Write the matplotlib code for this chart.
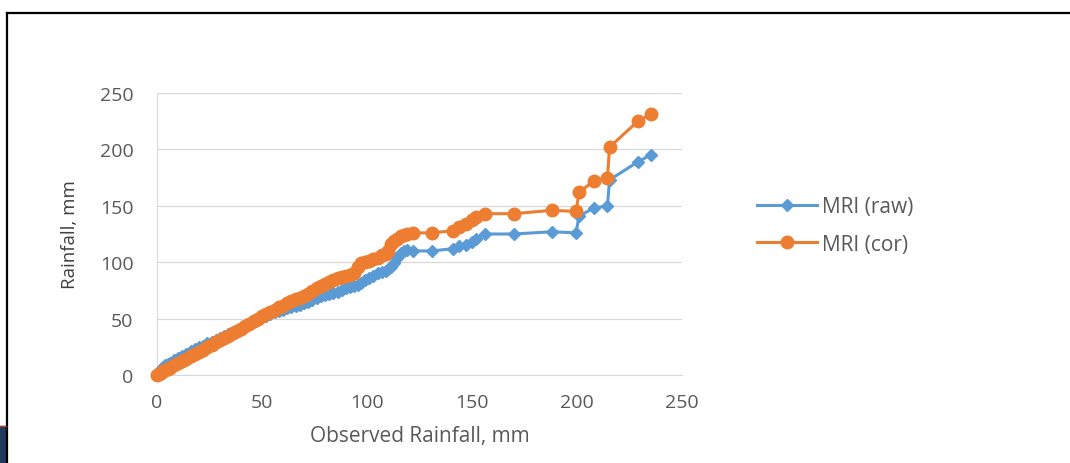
import numpy as np
import matplotlib
matplotlib.use('Agg')
import matplotlib.pyplot as plt
from matplotlib.lines import Line2D
from matplotlib.patches import Rectangle

# observed rainfall (x) and model rainfall, mm
obs = [0, 1, 2, 3, 4, 5, 6, 8, 10, 12, 14, 16, 18, 20, 22, 24, 26, 28, 30, 32,
       34, 36, 38, 40, 42, 44, 46, 48, 50, 52, 54, 56, 58, 60, 62, 64, 66, 68,
       70, 72, 74, 76, 78, 80, 82, 84, 86, 88, 90, 92, 94, 95.5, 97, 99, 101,
       103, 105, 107, 109, 110, 111.5, 113, 114.5, 116, 117.5, 119, 122, 131,
       141, 144, 147, 150, 152, 156, 170, 188, 199.5, 201, 208, 214.5, 215.5,
       229, 235]
mri_raw = [0, 3, 5, 7, 9, 10, 11, 13, 15, 17, 19, 21, 23, 25, 26, 28, 29.5, 31,
           33, 35, 36.5, 38, 40, 42, 43.5, 45, 47, 49, 51, 52.5, 54, 55.5, 57,
           58, 59, 60, 61, 62, 63.5, 65, 66.5, 68, 70, 71, 72, 73, 74, 75.5, 77,
           78, 79, 80, 82, 84, 86, 88, 90, 91, 92, 94, 96, 99, 104, 108, 110,
           111, 110, 110, 112, 114, 115, 118, 121, 125, 125, 127, 126, 141, 148,
           150, 173, 189, 195]
mri_cor = [0, 1, 2, 3.5, 4.5, 5.5, 6.5, 8.5, 10.5, 12.5, 14.5, 16.5, 18.5, 20.5,
           22.5, 24.5, 27, 29, 31, 33, 35, 37, 39, 41, 43, 45, 47.5, 50, 52, 54,
           56, 58, 60, 61.5, 63.5, 65.5, 67, 68.5, 70, 72, 74.5, 77, 79, 81,
           82.5, 84, 86, 87, 88, 89, 90, 96, 99, 100, 101, 102.5, 104, 106, 107,
           110, 116, 119, 121, 123, 124, 125, 126, 126, 128, 131, 134, 137, 140,
           143, 143, 146, 145, 162, 172, 175, 202, 225, 231]

blue = '#5B9BD5'
orange = '#ED7D31'
grid_c = '#D9D9D9'
txt_c = '#595959'
font = ['Open Sans', 'DejaVu Sans']

fig = plt.figure(figsize=(10.7, 4.64), dpi=100)
fig.patch.set_facecolor('white')

# slide frame
fig.add_artist(Line2D([7/1070, 1], [1-14/464, 1-14/464], color='black', lw=1.6,
                      transform=fig.transFigure))
fig.add_artist(Line2D([7/1070, 7/1070], [0, 1-14/464], color='black', lw=1.6,
                      transform=fig.transFigure))
fig.add_artist(Rectangle((0, 0), 6/1070, 37/464, color='#1F3A5C',
                         transform=fig.transFigure))
fig.add_artist(Line2D([0, 6/1070], [37/464, 37/464], color='#C0392B', lw=1,
                      transform=fig.transFigure))

ax = fig.add_axes([157/1070, 88/464, 525/1070, 282/464])
ax.plot(obs, mri_raw, color=blue, lw=2.2, marker='D', ms=6.5, mec=blue,
        label='MRI (raw)', zorder=3, clip_on=False)
ax.plot(obs, mri_cor, color=orange, lw=2.2, marker='o', ms=9, mec=orange,
        label='MRI (cor)', zorder=4, clip_on=False)

ax.set_xlim(0, 250)
ax.set_ylim(0, 250)
ax.set_xticks(np.arange(0, 251, 50))
ax.set_yticks(np.arange(0, 251, 50))
ax.grid(axis='y', color=grid_c, lw=0.9)
ax.set_axisbelow(True)
for s in ['top', 'right']:
    ax.spines[s].set_visible(False)
ax.spines['left'].set_color(grid_c)
ax.spines['bottom'].set_color(grid_c)
ax.tick_params(length=0, labelsize=14, labelcolor=txt_c)
ax.tick_params(axis='x', pad=13)
ax.tick_params(axis='y', pad=17)
for lab in ax.get_xticklabels() + ax.get_yticklabels():
    lab.set_family(font)
ax.set_xlabel('Observed Rainfall, mm', fontsize=15, color=txt_c, family=font,
              labelpad=10)
ax.set_ylabel('Rainfall, mm', fontsize=13.5, color='#404040', family=font,
              labelpad=15)

leg = fig.legend(handles=ax.get_lines(), loc='center left',
                 bbox_to_anchor=(757/1070, 1-226.5/464), frameon=False,
                 prop={'family': font, 'size': 15}, handlelength=2.9,
                 handletextpad=0.2, labelspacing=0.78, borderpad=0,
                 borderaxespad=0)
for t in leg.get_texts():
    t.set_color(txt_c)

fig.savefig('out.png', dpi=100, facecolor='white')
